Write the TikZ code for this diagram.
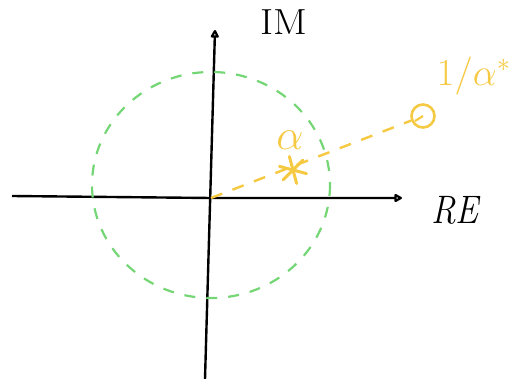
\documentclass[tikz,border=0pt]{standalone}
\usepackage{graphicx}
\usepackage{tikz}
\usepackage{xcolor}
\usetikzlibrary{arrows.meta, positioning, calc}
\definecolor{penyellow}{HTML}{F6C943}
\definecolor{pengreen}{HTML}{74D674}
\tikzset{
  axis/.style  ={-{Triangle[open, round, length=9pt, width=9pt]}, draw=black, line width=2.4pt},
  unit/.style  ={dash pattern=on 11pt off 11pt, draw=pengreen, line width=2.2pt},
  ray/.style   ={dash pattern=on 12pt off 11pt, draw=penyellow, line width=2.4pt},
  starline/.style={draw=penyellow, line width=3pt, line cap=round},
  lbl/.style   ={font=\LARGE, inner sep=0pt},
  ylbl/.style  ={text=penyellow, font=\LARGE, inner sep=0pt},
}

\begin{document}
\begin{tikzpicture}[x=1pt, y=-1pt]
\useasboundingbox (0,0) rectangle (525,379);

% axes
\coordinate (o) at (211,198);
\coordinate (reL) at (12,196);
\coordinate (reR) at (402,198);
\coordinate (imB) at (205,379);
\coordinate (imT) at (215,30);
\draw[axis] (reL) -- (o) -- (reR);
\draw[axis] (imB) -- (imT);
\node[lbl] (im) at (284,22) {\scalebox{2.3}[2.1]{IM}};
\node[lbl] (re) at (455,210) {\scalebox{2}[2.3]{\itshape RE}};

% unit circle
\draw[unit] (211,185) ellipse [x radius=119, y radius=113];

% alpha and its conjugate reciprocal
\coordinate (alpha) at (293,170);
\node[draw=penyellow, circle, line width=2.6pt, minimum size=23pt, inner sep=0pt] (inv) at (423,116) {};
\draw[ray] (o) -- (inv);
\foreach \a in {15,75,135}
  \draw[starline] ($(alpha)+(\a:14)$) -- ($(alpha)+(\a+180:14)$);
\draw[draw=penyellow, line width=2.2pt] (inv.center) -- ++(-8,5);
\node[ylbl] (alab) at (290,140) {\scalebox{2.5}{$\alpha$}};
\node[ylbl] (ilab) at (474,76) {\scalebox{2.2}{$1/\alpha^{*}$}};

\end{tikzpicture}
\end{document}
